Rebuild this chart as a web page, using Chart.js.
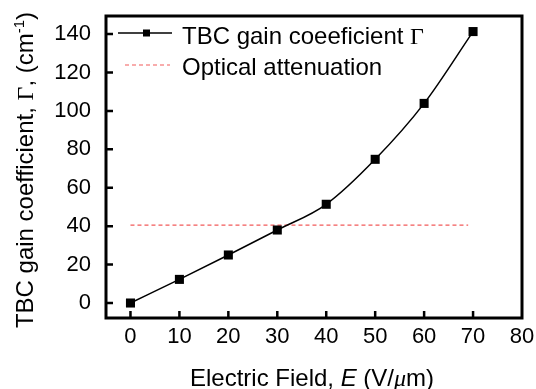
<!DOCTYPE html>
<html>
<head>
<meta charset="utf-8">
<script src="https://cdn.jsdelivr.net/npm/chart.js@4.4.0/dist/chart.umd.min.js"></script>
<style>
html,body{margin:0;padding:0;background:#fff;}
#wrap{width:536px;height:389px;position:relative;}
</style>
</head>
<body>
<div id="wrap"><canvas id="c" width="536" height="389"></canvas></div>
<script>
const fieldValues = [0, 10, 20, 30, 40, 50, 60, 70];
const gainValues = [0, 12.3, 25, 38, 51.4, 74.8, 103.9, 141.3];
const attenuationX = [0, 69];
const attenuationY = [40.5, 40.5];
const xTicks = [0, 10, 20, 30, 40, 50, 60, 70, 80];
const yTicks = [0, 20, 40, 60, 80, 100, 120, 140];
const legendLabels = ['TBC gain coeeficient ', 'Optical attenuation'];

const SANS = '"Liberation Sans", Arial, sans-serif';
const SERIF = '"Liberation Serif", "Times New Roman", serif';
const RED = '#f25a5a';

function drawRuns(ctx, runs, x, y) {
  let total = 0;
  runs.forEach(r => { ctx.font = r.font; r.w = ctx.measureText(r.t).width; total += r.w; });
  let cx = x - total / 2;
  runs.forEach(r => {
    ctx.font = r.font;
    ctx.fillText(r.t, cx, y + (r.dy || 0));
    cx += r.w;
  });
}

const decor = {
  id: 'decor',
  afterDraw(chart) {
    const ctx = chart.ctx;
    const a = chart.chartArea;
    const xs = chart.scales.x, ys = chart.scales.y;
    ctx.save();
    ctx.strokeStyle = '#000';
    ctx.lineWidth = 3;
    ctx.strokeRect(a.left, a.top, a.right - a.left, a.bottom - a.top);
    // inward ticks
    ctx.lineWidth = 2.5;
    ctx.beginPath();
    xs.ticks.forEach(t => {
      const px = xs.getPixelForValue(t.value);
      if (px > a.right - 2) return;
      ctx.moveTo(px, a.bottom);
      ctx.lineTo(px, a.bottom - 7);
    });
    ys.ticks.forEach(t => {
      const py = ys.getPixelForValue(t.value);
      ctx.moveTo(a.left, py);
      ctx.lineTo(a.left + 7, py);
    });
    ctx.stroke();

    // legend
    ctx.fillStyle = '#000';
    ctx.textBaseline = 'alphabetic';
    ctx.textAlign = 'left';
    const ly1 = 33, ly2 = 65;
    ctx.lineWidth = 1.5;
    ctx.beginPath();
    ctx.moveTo(118, ly1); ctx.lineTo(172, ly1);
    ctx.stroke();
    ctx.fillRect(146.5 - 3.5, ly1 - 3.5, 7, 7);
    ctx.strokeStyle = RED;
    ctx.lineWidth = 1.2;
    ctx.setLineDash([4, 3]);
    ctx.beginPath();
    ctx.moveTo(125, ly2); ctx.lineTo(170, ly2);
    ctx.stroke();
    ctx.setLineDash([]);
    ctx.font = '24px ' + SANS;
    ctx.fillText(legendLabels[0], 182, 44);
    const w0 = ctx.measureText(legendLabels[0]).width;
    ctx.font = '24px ' + SERIF;
    ctx.fillText('\u0393', 182 + w0, 44);
    ctx.font = '24px ' + SANS;
    ctx.fillText(legendLabels[1], 182, 75);

    // x title
    drawRuns(ctx, [
      {t: 'Electric Field, ', font: '24px ' + SANS},
      {t: 'E', font: 'italic 24px ' + SANS},
      {t: ' (V/', font: '24px ' + SANS},
      {t: '\u03bc', font: 'italic 24px ' + SERIF},
      {t: 'm)', font: '24px ' + SANS}
    ], (a.left + a.right) / 2 - 2, 386);

    // y title
    ctx.translate(33, (a.top + a.bottom) / 2 + 3);
    ctx.rotate(-Math.PI / 2);
    drawRuns(ctx, [
      {t: 'TBC gain coefficient, ', font: '24px ' + SANS},
      {t: '\u0393', font: '24px ' + SERIF},
      {t: ', (cm', font: '24px ' + SANS},
      {t: '-1', font: '15px ' + SANS, dy: -9},
      {t: ')', font: '24px ' + SANS}
    ], 0, 0);
    ctx.restore();
  }
};

new Chart(document.getElementById('c'), {
  type: 'scatter',
  data: {
    datasets: [
      {
        label: 'TBC gain coefficient',
        data: fieldValues.map((x, i) => ({x: x, y: gainValues[i]})),
        showLine: true,
        borderColor: '#000',
        backgroundColor: '#000',
        borderWidth: 1.5,
        pointStyle: 'rect',
        pointRadius: 6.4,
        pointBorderWidth: 0,
        cubicInterpolationMode: 'monotone',
        order: 1
      },
      {
        label: 'Optical attenuation',
        data: attenuationX.map((x, i) => ({x: x, y: attenuationY[i]})),
        showLine: true,
        borderColor: RED,
        borderWidth: 1.2,
        borderDash: [4, 3],
        pointRadius: 0,
        order: 2
      }
    ]
  },
  options: {
    responsive: false,
    animation: false,
    layout: {padding: {left: 0, right: 14, top: 16, bottom: 0}},
    plugins: {legend: {display: false}, tooltip: {enabled: false}},
    scales: {
      x: {
        type: 'linear', min: -5, max: 80,
        afterFit(s) { s.height = 71; s.paddingLeft = 0; s.paddingRight = 0; },
        afterBuildTicks(s) { s.ticks = xTicks.map(v => ({value: v})); },
        grid: {display: false, drawTicks: false},
        border: {display: false},
        ticks: {color: '#000', padding: 6, font: {family: SANS, size: 22}, maxRotation: 0}
      },
      y: {
        type: 'linear', min: -7.8, max: 149.4,
        afterFit(s) { s.width = 106; s.paddingTop = 0; s.paddingBottom = 0; },
        afterBuildTicks(s) { s.ticks = yTicks.map(v => ({value: v})); },
        grid: {display: false, drawTicks: false},
        border: {display: false},
        ticks: {color: '#000', padding: 15, font: {family: SANS, size: 22}}
      }
    }
  },
  plugins: [decor]
});
</script>
</body>
</html>
